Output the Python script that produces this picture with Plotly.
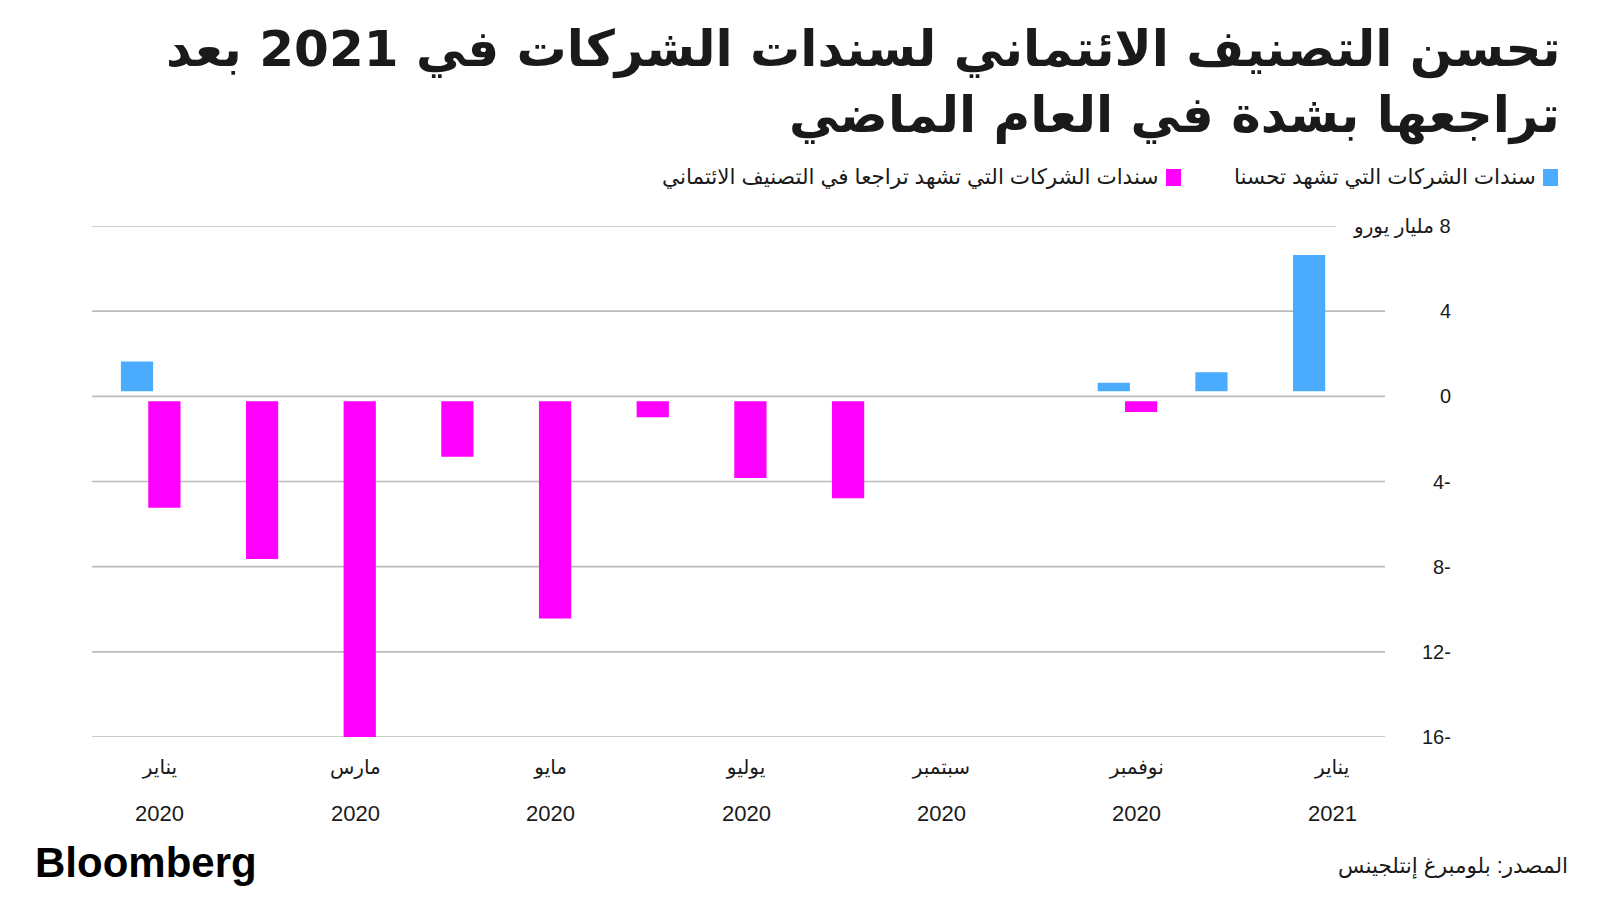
import plotly.graph_objects as go

# months Jan 2020 .. Jan 2021
MONTH_NAMES = ["يناير", "فبراير", "مارس", "أبريل", "مايو", "يونيو", "يوليو",
               "أغسطس", "سبتمبر", "أكتوبر", "نوفمبر", "ديسمبر", "يناير"]
YEARS = ["2020"] * 12 + ["2021"]

# billion euro
UPGRADES = [1.4, 0, 0, 0, 0, 0, 0, 0, 0, 0, 0.4, 0.9, 6.4]
DOWNGRADES = [-5.0, -7.4, -16.3, -2.6, -10.2, -0.75, -3.6, -4.55, 0, 0, -0.5, 0, 0]

Y_TICKS = [8, 4, 0, -4, -8, -12, -16]
Y_TICK_LABELS = ["\u202B8 مليار يورو\u202C", "4", "0", "4-", "8-", "12-", "16-"]

TITLE_LINES = ["تحسن التصنيف الائتماني لسندات الشركات في 2021 بعد",
               "تراجعها بشدة في العام الماضي"]
LEGEND_UP = "سندات الشركات التي تشهد تحسنا"
LEGEND_DOWN = "سندات الشركات التي تشهد تراجعا في التصنيف الائتماني"
SOURCE = "المصدر: بلومبرغ إنتلجينس"

BLUE = "#4aabff"
MAGENTA = "#ff00ff"
GRID = "#bcbcbc"
TEXT = "#1a1a1a"
FONT = "Liberation Sans, DejaVu Sans, sans-serif"

# plot area in pixels
W, H = 1600, 900
L, R, T, B = 92, 215, 226, 163
PW, PH = W - L - R, H - T - B


def px_x(p):
    return (p - L) / PW


def px_y(p):
    return (H - B - p) / PH


x = list(range(len(MONTH_NAMES)))
bar_w = 0.33
gap = 0.235  # small gap between bars and the zero line

fig = go.Figure()
fig.add_trace(go.Bar(
    x=x, y=UPGRADES, base=gap, width=bar_w, offset=-0.40,
    marker=dict(color=BLUE, line=dict(width=0)), name=LEGEND_UP,
))
fig.add_trace(go.Bar(
    x=x, y=DOWNGRADES, base=-gap, width=bar_w, offset=-0.12,
    marker=dict(color=MAGENTA, line=dict(width=0)), name=LEGEND_DOWN,
))

# gridlines (top one is shortened to make room for the unit label)
shapes = []
for v in Y_TICKS:
    shapes.append(dict(type="line", xref="paper", yref="y", x0=0,
                       x1=px_x(1336) if v == Y_TICKS[0] else 1,
                       y0=v, y1=v, line=dict(color=GRID, width=1.6), layer="below"))

# legend swatches
shapes.append(dict(type="rect", xref="paper", yref="paper",
                   x0=px_x(1543), x1=px_x(1558), y0=px_y(169), y1=px_y(186),
                   fillcolor=BLUE, line=dict(width=0)))
shapes.append(dict(type="rect", xref="paper", yref="paper",
                   x0=px_x(1166), x1=px_x(1181), y0=px_y(169), y1=px_y(186),
                   fillcolor=MAGENTA, line=dict(width=0)))

annotations = []
for v, lab in zip(Y_TICKS, Y_TICK_LABELS):
    annotations.append(dict(text=lab, xref="paper", yref="y", x=px_x(1453), y=v,
                            xanchor="right", yanchor="middle", showarrow=False,
                            font=dict(size=20, color=TEXT, family=FONT)))

# second row of x labels: years
for i in x[::2]:
    annotations.append(dict(text=YEARS[i], xref="x", yref="paper", x=i, y=px_y(813),
                            xanchor="center", yanchor="middle", showarrow=False,
                            font=dict(size=22, color=TEXT, family=FONT)))

title_font = dict(size=50, color=TEXT, family="DejaVu Sans", weight="bold")
annotations.append(dict(text=TITLE_LINES[0], xref="paper", yref="paper",
                        x=px_x(1562), y=px_y(49), xanchor="right", yanchor="middle",
                        showarrow=False, font=title_font))
annotations.append(dict(text=TITLE_LINES[1], xref="paper", yref="paper",
                        x=px_x(1562), y=px_y(116), xanchor="right", yanchor="middle",
                        showarrow=False, font=title_font))

annotations.append(dict(text=LEGEND_UP, xref="paper", yref="paper",
                        x=px_x(1538), y=px_y(177), xanchor="right", yanchor="middle",
                        showarrow=False, font=dict(size=21.5, color=TEXT, family=FONT)))
annotations.append(dict(text=LEGEND_DOWN, xref="paper", yref="paper",
                        x=px_x(1160), y=px_y(177), xanchor="right", yanchor="middle",
                        showarrow=False, font=dict(size=21.5, color=TEXT, family=FONT)))

annotations.append(dict(text="Bloomberg", xref="paper", yref="paper",
                        x=px_x(33), y=px_y(862), xanchor="left", yanchor="middle",
                        showarrow=False,
                        font=dict(size=42, color="#000000", family="Liberation Sans",
                                  weight="bold")))
annotations.append(dict(text=SOURCE, xref="paper", yref="paper",
                        x=px_x(1570), y=px_y(866), xanchor="right", yanchor="middle",
                        showarrow=False, font=dict(size=21.5, color=TEXT, family=FONT)))

tick_idx = x[::2]
tick_text = [MONTH_NAMES[i] for i in tick_idx]

fig.update_layout(
    width=W, height=H,
    margin=dict(l=L, r=R, t=T, b=B),
    paper_bgcolor="white", plot_bgcolor="white",
    barmode="overlay",
    showlegend=False,
    font=dict(family=FONT, size=20, color=TEXT),
    shapes=shapes,
    annotations=annotations,
    xaxis=dict(range=[-0.696, 12.542], tickvals=tick_idx, ticktext=tick_text,
               showgrid=False, zeroline=False, showline=False, ticks="",
               ticklabelstandoff=16, tickfont=dict(size=20, color=TEXT)),
    yaxis=dict(range=[-16, 8], showgrid=False, zeroline=False, showline=False,
               showticklabels=False, ticks=""),
)

fig.write_html("out.html", config={"displayModeBar": False},
               post_script="document.body.style.margin='0';")
